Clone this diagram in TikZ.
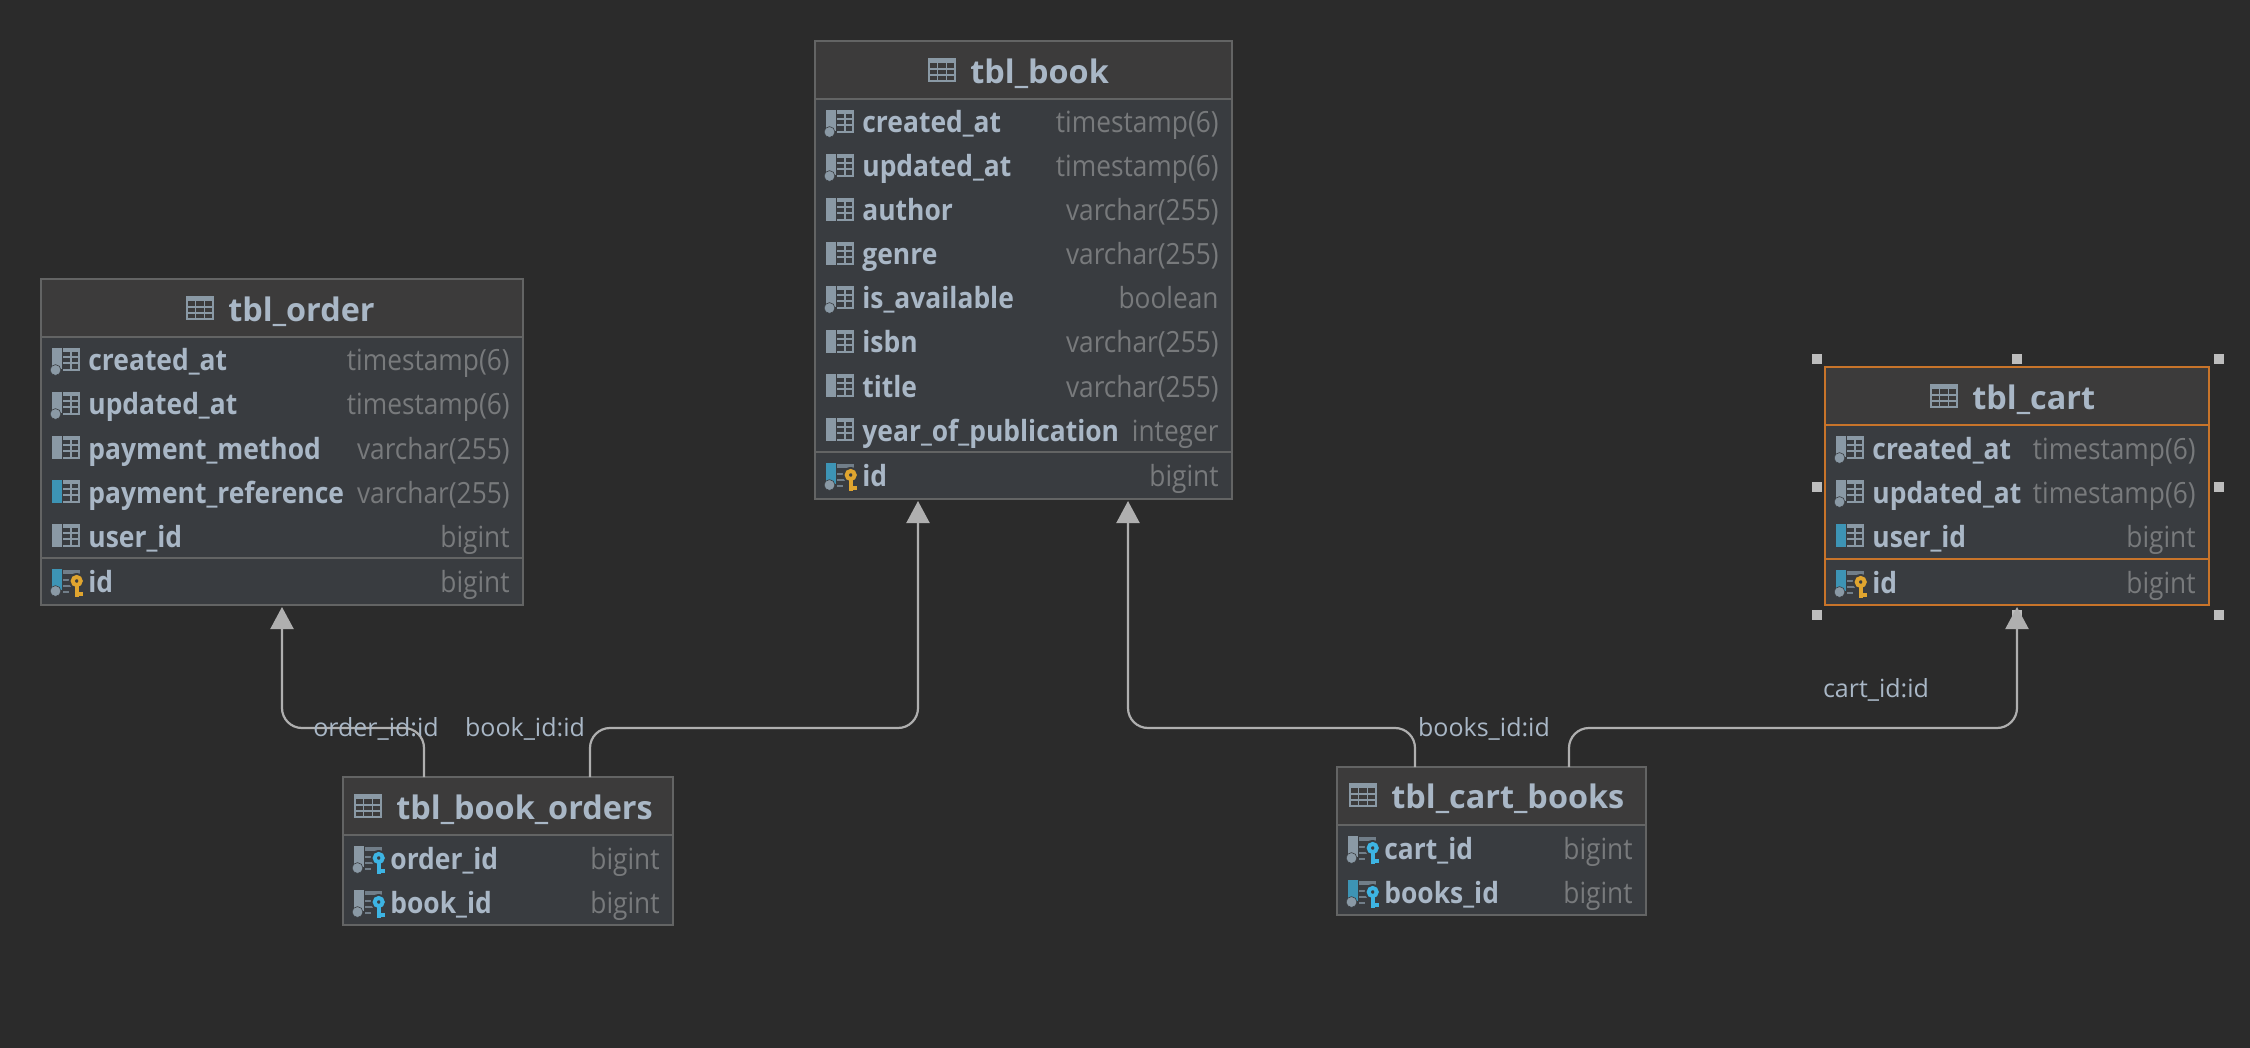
\documentclass[tikz,border=0pt]{standalone}
\usepackage{fontspec}
\setmainfont{Open Sans}
\newfontfamily\rownamef[FakeStretch=0.905]{Open Sans}
\newfontfamily\rowtypef[FakeStretch=0.9]{Open Sans}
\usetikzlibrary{arrows.meta}
\definecolor{bgc}{HTML}{2B2B2B}
\definecolor{hdrc}{HTML}{3C3B3B}
\definecolor{bodyc}{HTML}{393C40}
\definecolor{edgec}{HTML}{636464}
\definecolor{namec}{HTML}{A9B7C6}
\definecolor{typec}{HTML}{787A7C}
\definecolor{iconc}{HTML}{8A99A5}
\definecolor{fadec}{HTML}{717E89}
\definecolor{bluec}{HTML}{3D94B5}
\definecolor{pkc}{HTML}{E0A52F}
\definecolor{fkc}{HTML}{3DB4E3}
\definecolor{connc}{HTML}{AFAFAF}
\definecolor{selc}{HTML}{C8742A}
\definecolor{handlec}{HTML}{BDBDBD}
\newcount\nodeno
\newcommand{\fresh}{\global\advance\nodeno by 1 }
\tikzset{
  tablebox/.style={draw=#1,line width=0.75pt,fill=bodyc,inner sep=0pt,outer sep=0pt,rectangle},
  rowname/.style={anchor=base west,inner sep=0pt,text=namec,font=\fontsize{14.6}{16}\rownamef\bfseries},
  rowtype/.style={anchor=base east,inner sep=0pt,text=typec,font=\fontsize{14.6}{16}\rowtypef},
  titletext/.style={anchor=base west,inner sep=0pt,text=namec,font=\fontsize{16.2}{18}\selectfont\bfseries},
  linklabel/.style={anchor=center,inner sep=0pt,text=namec,font=\fontsize{12.5}{14}\selectfont},
  conn/.style={draw=connc,line width=1.1pt,rounded corners=10pt,-{Triangle[length=11pt,width=11.5pt]},shorten >=1pt},
  handlebox/.style={fill=handlec,draw=none,minimum size=5pt,inner sep=0pt,outer sep=0pt,rectangle},
}
% #1 name #2 x1 #3 y1 #4 x2 #5 y2 #6 header line y #7 colour #8 line width
\newcommand{\tbl}[8]{%
  \node[tablebox=#7,minimum width={(#4-#2)*0.5pt},minimum height={(#5-#3)*0.5pt}] (#1) at ({(#2+#4)/2},{(#3+#5)/2}) {};
  \fill[hdrc] (#2,#3) rectangle (#4,#6);
  \draw[#7,line width=#8] (#2,#3) rectangle (#4,#5);
  \draw[#7,line width=#8] (#2,#6) -- (#4,#6);
}
\newcommand{\sepline}[5]{\draw[#4,line width=#5] (#1,#3) -- (#2,#3);}
% title: #1 icon left #2 baseline/icon bottom #3 text
\newcommand{\titl}[3]{%
  \begin{scope}[shift={(#1,#2)}]
    \fill[iconc] (0,-24) rectangle (28,-19);
    \draw[iconc,line width=0.9pt] (0.9,-19) -- (0.9,-0.9) -- (27.1,-0.9) -- (27.1,-19);
    \draw[iconc,line width=0.7pt] (0,-13) -- (28,-13) (0,-7) -- (28,-7) (9.3,-19) -- (9.3,0) (18.6,-19) -- (18.6,0);
  \end{scope}
  \fresh\node[titletext] (t\the\nodeno) at (#1+42,#2+1.5) {#3};
}
% column grid icon at row-left origin
\newcommand{\gridicon}{%
  \fill[iconc] (22,-13) rectangle (39,-9);
  \draw[iconc,line width=0.8pt] (28,-4) -- (39,-4) (28,2) -- (39,2) (22,9) -- (39,9) (38.2,-13) -- (38.2,10) (30,-10) -- (30,10);
  \draw[iconc,line width=0.8pt] (22,-4) -- (30,-4) (22,2) -- (30,2);
}
\newcommand{\fadedgrid}{%
  \fill[fadec] (22,-12) rectangle (39,-8);
  \draw[fadec,line width=0.8pt] (22,-2) -- (30,-2) (22,4) -- (30,4) (22,10) -- (28,10);
}
\newcommand{\dotmark}{\fill[iconc,draw=bodyc,line width=0.3pt] (14.5,9) circle (5.4);}
\newcommand{\keyicon}[1]{%
  \fill[bodyc] (35.7,-1) circle (8);
  \draw[#1,line width=2pt] (35.7,-1) circle (4);
  \fill[#1] (33.7,3) rectangle (37.7,15);
  \fill[#1] (37.7,9.5) rectangle (42.3,14);
}
% #1 left #2 right #3 centre y #4 name #5 type #6 icon code
\newcommand{\rw}[6]{%
  \begin{scope}[shift={(#1,#3)}] #6 \end{scope}
  \fresh\node[rowname] (n\the\nodeno) at (#1+47,#3+10) {#4};
  \fresh\node[rowtype] (n\the\nodeno) at (#2-13,#3+10) {#5};
}
\newcommand{\plaingray}{\fill[iconc] (11,-13) rectangle (21,10); \gridicon}
\newcommand{\nullgray}{\fill[iconc] (11,-13) rectangle (21,8); \dotmark \gridicon}
\newcommand{\plainblue}{\fill[bluec] (11,-13) rectangle (21,10); \gridicon}
\newcommand{\pkicon}{\fill[bluec] (11,-13) rectangle (21,8); \dotmark \fadedgrid \keyicon{pkc}}
\newcommand{\fkicon}{\fill[iconc] (11,-13) rectangle (21,8); \dotmark \fadedgrid \keyicon{fkc}}
\newcommand{\fkblueicon}{\fill[bluec] (11,-13) rectangle (21,8); \dotmark \fadedgrid \keyicon{fkc}}
\begin{document}
\begin{tikzpicture}[x=0.5pt,y=-0.5pt]
\useasboundingbox (0,0) rectangle (2250,1048);
\fill[bgc] (0,0) rectangle (2250,1048);

% tbl_book
\tbl{book}{815}{41}{1232}{499}{99}{edgec}{0.75pt}
\sepline{815}{1232}{452}{edgec}{0.75pt}
\titl{928}{82}{tbl\_book}
\rw{815}{1232}{123}{created\_at}{timestamp(6)}{\nullgray}
\rw{815}{1232}{167}{updated\_at}{timestamp(6)}{\nullgray}
\rw{815}{1232}{211}{author}{varchar(255)}{\plaingray}
\rw{815}{1232}{255}{genre}{varchar(255)}{\plaingray}
\rw{815}{1232}{299}{is\_available}{boolean}{\nullgray}
\rw{815}{1232}{343}{isbn}{varchar(255)}{\plaingray}
\rw{815}{1232}{387}{title}{varchar(255)}{\plaingray}
\rw{815}{1232}{431}{year\_of\_publication}{integer}{\plaingray}
\rw{815}{1232}{476}{id}{bigint}{\pkicon}

% tbl_order
\tbl{order}{41}{279}{523}{605}{337}{edgec}{0.75pt}
\sepline{41}{523}{558}{edgec}{0.75pt}
\titl{186}{320}{tbl\_order}
\rw{41}{523}{361}{created\_at}{timestamp(6)}{\nullgray}
\rw{41}{523}{405}{updated\_at}{timestamp(6)}{\nullgray}
\rw{41}{523}{449}{payment\_method}{varchar(255)}{\plaingray}
\rw{41}{523}{493}{payment\_reference}{varchar(255)}{\plainblue}
\rw{41}{523}{537}{user\_id}{bigint}{\plaingray}
\rw{41}{523}{582}{id}{bigint}{\pkicon}

% tbl_cart
\tbl{cart}{1825}{367}{2209}{605}{425}{selc}{1pt}
\sepline{1825}{2209}{559}{selc}{1pt}
\titl{1930}{408}{tbl\_cart}
\rw{1825}{2209}{449}{created\_at}{timestamp(6)}{\nullgray}
\rw{1825}{2209}{493}{updated\_at}{timestamp(6)}{\nullgray}
\rw{1825}{2209}{537}{user\_id}{bigint}{\plainblue}
\rw{1825}{2209}{583}{id}{bigint}{\pkicon}
\node[handlebox] (h1) at (1817,359) {};
\node[handlebox] (h2) at (2017,359) {};
\node[handlebox] (h3) at (2219,359) {};
\node[handlebox] (h4) at (1817,487) {};
\node[handlebox] (h5) at (2219,487) {};
\node[handlebox] (h6) at (1817,615) {};
\node[handlebox] (h7) at (2017,615) {};
\node[handlebox] (h8) at (2219,615) {};

% tbl_book_orders
\tbl{bookorders}{343}{777}{673}{925}{835}{edgec}{0.75pt}
\titl{354}{818}{tbl\_book\_orders}
\rw{343}{673}{859}{order\_id}{bigint}{\fkicon}
\rw{343}{673}{903}{book\_id}{bigint}{\fkicon}

% tbl_cart_books
\tbl{cartbooks}{1337}{767}{1646}{915}{825}{edgec}{0.75pt}
\titl{1349}{807}{tbl\_cart\_books}
\rw{1337}{1646}{849}{cart\_id}{bigint}{\fkicon}
\rw{1337}{1646}{893}{books\_id}{bigint}{\fkblueicon}

% connectors
\coordinate (lane) at (0,728);
\coordinate (oa) at (424,0); \coordinate (ob) at (282,0);
\coordinate (ba) at (590,0); \coordinate (bb) at (918,0);
\coordinate (ca) at (1415,0); \coordinate (cb) at (1128,0);
\coordinate (da) at (1569,0); \coordinate (db) at (2017,0);
\draw[conn] (bookorders.north -| oa) -- (oa |- lane) -- (ob |- lane) -- (order.south -| ob);
\draw[conn] (bookorders.north -| ba) -- (ba |- lane) -- (bb |- lane) -- (book.south -| bb);
\draw[conn] (cartbooks.north -| ca) -- (ca |- lane) -- (cb |- lane) -- (book.south -| cb);
\draw[conn] (cartbooks.north -| da) -- (da |- lane) -- (db |- lane) -- (cart.south -| db);

% connector labels
\node[linklabel] (l1) at (376,729) {order\_id:id};
\node[linklabel] (l2) at (525,729) {book\_id:id};
\node[linklabel] (l3) at (1484,729) {books\_id:id};
\node[linklabel] (l4) at (1876,690) {cart\_id:id};
\end{tikzpicture}
\end{document}
